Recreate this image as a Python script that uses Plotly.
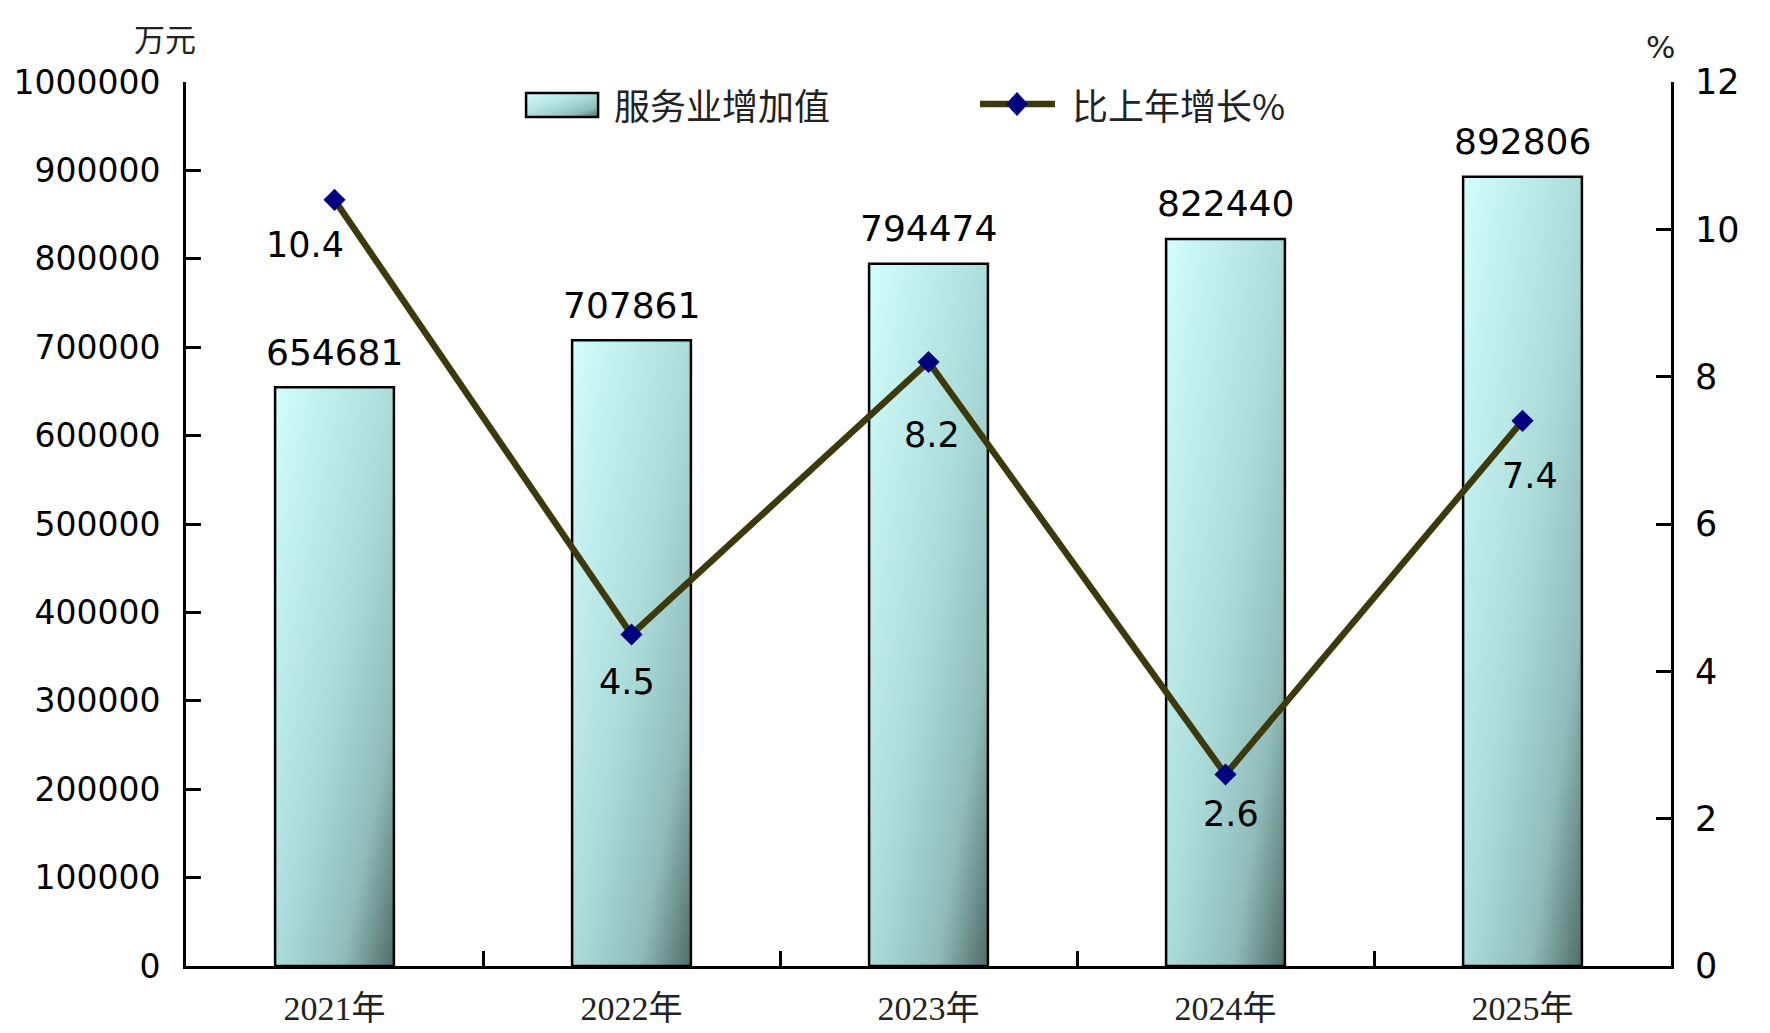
import base64
import plotly.graph_objects as go

# ---------------- data ----------------
years = ["2021年", "2022年", "2023年", "2024年", "2025年"]
service_value = [654681, 707861, 794474, 822440, 892806]   # 万元
growth_pct = [10.4, 4.5, 8.2, 2.6, 7.4]                    # %
left_ticks = [0, 100000, 200000, 300000, 400000, 500000, 600000, 700000, 800000, 900000, 1000000]
right_ticks = [0, 2, 4, 6, 8, 10, 12]
bar_name = "服务业增加值"
line_name = "比上年增长%"

# ---------------- style ----------------
LINE_COLOR = "#3c3a0c"
MARKER_COLOR = "#00007f"
NUM_FONT = "DejaVu Sans"
CJK_FONT = "Noto Sans CJK SC"
XLAB_FONT = "Liberation Serif, Noto Sans CJK SC"
BAR_WIDTH = 0.4
# label offsets (pixels) for the growth labels: (dx, dy)
growth_label_shift = [(-30, -45), (-5, -47), (3, -73), (5, -40), (7, -55)]

svg = ('<svg xmlns="http://www.w3.org/2000/svg" width="100" height="100" viewBox="0 0 100 100" '
       'preserveAspectRatio="none"><defs><linearGradient id="g" x1="0" y1="0" x2="1" y2="1">'
       '<stop offset="0" stop-color="#d2fefc"/><stop offset="0.5" stop-color="#acdcda"/>'
       '<stop offset="0.78" stop-color="#90bcba"/>'
       '<stop offset="1" stop-color="#516c69"/></linearGradient></defs>'
       '<rect x="0" y="0" width="100" height="100" fill="url(#g)"/></svg>')
grad_uri = "data:image/svg+xml;base64," + base64.b64encode(svg.encode()).decode()

fig = go.Figure()
fig.add_trace(go.Bar(
    x=years, y=service_value, width=BAR_WIDTH, name=bar_name,
    marker=dict(color="rgba(0,0,0,0)", line=dict(color="black", width=2.5)),
    showlegend=False,
))
fig.add_trace(go.Scatter(
    x=years, y=growth_pct, yaxis="y2", name=line_name, mode="lines+markers",
    line=dict(color=LINE_COLOR, width=6.5),
    marker=dict(symbol="diamond", size=17, color=MARKER_COLOR),
    showlegend=False,
))

images = []
for i, v in enumerate(service_value):
    images.append(dict(source=grad_uri, xref="x", yref="y", x=i, y=v,
                       sizex=BAR_WIDTH, sizey=v, xanchor="center", yanchor="top",
                       sizing="stretch", layer="below"))
# legend swatch
images.append(dict(source=grad_uri, xref="paper", yref="paper", x=0.229, y=0.9876,
                   sizex=0.0485, sizey=0.0272, xanchor="left", yanchor="top",
                   sizing="stretch", layer="above"))

annotations = []
for c, v in zip(years, service_value):
    annotations.append(dict(x=c, y=v, xref="x", yref="y", text=str(v), showarrow=False,
                            yanchor="middle", yshift=35,
                            font=dict(family=NUM_FONT, size=36, color="black")))
for (c, g), (dx, dy) in zip(zip(years, growth_pct), growth_label_shift):
    annotations.append(dict(x=c, y=g, xref="x", yref="y2", text=f"{g:.1f}", showarrow=False,
                            yanchor="middle", xshift=dx, yshift=dy,
                            font=dict(family=NUM_FONT, size=35, color="black")))
annotations += [
    dict(x=-0.0141, y=1.0509, xref="paper", yref="paper", text="万元", showarrow=False,
         xanchor="center", yanchor="middle", font=dict(family=CJK_FONT, size=31, color="#222")),
    dict(x=0.9926, y=1.0396, xref="paper", yref="paper", text="%", showarrow=False,
         xanchor="center", yanchor="middle", font=dict(family=NUM_FONT, size=31, color="#222")),
    dict(x=0.2869, y=0.9751, xref="paper", yref="paper", text=bar_name, showarrow=False,
         xanchor="left", yanchor="middle", font=dict(family=CJK_FONT, size=36, color="#222")),
    dict(x=0.5953, y=0.9751, xref="paper", yref="paper", text=line_name, showarrow=False,
         xanchor="left", yanchor="middle", font=dict(family=CJK_FONT, size=36, color="#222")),
]

shapes = [
    dict(type="rect", xref="paper", yref="paper", x0=0.229, x1=0.2775, y0=0.9604, y1=0.9876,
         line=dict(color="black", width=2.5), fillcolor="rgba(0,0,0,0)", layer="above"),
    dict(type="line", xref="paper", yref="paper", x0=0.5347, x1=0.5852, y0=0.9751, y1=0.9751,
         line=dict(color=LINE_COLOR, width=6.5)),
    dict(type="path", xref="paper", yref="paper", xsizemode="pixel", ysizemode="pixel",
         xanchor=0.5596, yanchor=0.9751, path="M -11,0 L 0,12 L 11,0 L 0,-12 Z",
         fillcolor=MARKER_COLOR, line=dict(width=0)),
]

axis_common = dict(showline=True, linecolor="black", linewidth=3, showgrid=False,
                   zeroline=False, ticks="inside", ticklen=15, tickwidth=2.5, tickcolor="black",
                   automargin=False)

# the page body adds an 8px margin, so the figure is 8px smaller and shifted accordingly
fig.update_layout(
    width=1762, height=1025,
    margin=dict(l=178, r=99, t=74, b=67),
    paper_bgcolor="white", plot_bgcolor="white",
    showlegend=False,
    xaxis=dict(type="category", range=[-0.5, 4.5], tickson="boundaries",
               tickfont=dict(family=XLAB_FONT, size=34, color="#222"),
               ticklabelstandoff=10, **axis_common),
    yaxis=dict(range=[0, 1000000], tickvals=left_ticks, ticktext=[str(t) for t in left_ticks],
               tickfont=dict(family=NUM_FONT, size=33, color="black"),
               ticklabelstandoff=16, **axis_common),
    yaxis2=dict(range=[0, 12], tickvals=right_ticks, overlaying="y", side="right",
                tickfont=dict(family=NUM_FONT, size=35, color="black"),
                ticklabelstandoff=14, **axis_common),
    images=images, annotations=annotations, shapes=shapes,
)

fig.write_html("out.html")
